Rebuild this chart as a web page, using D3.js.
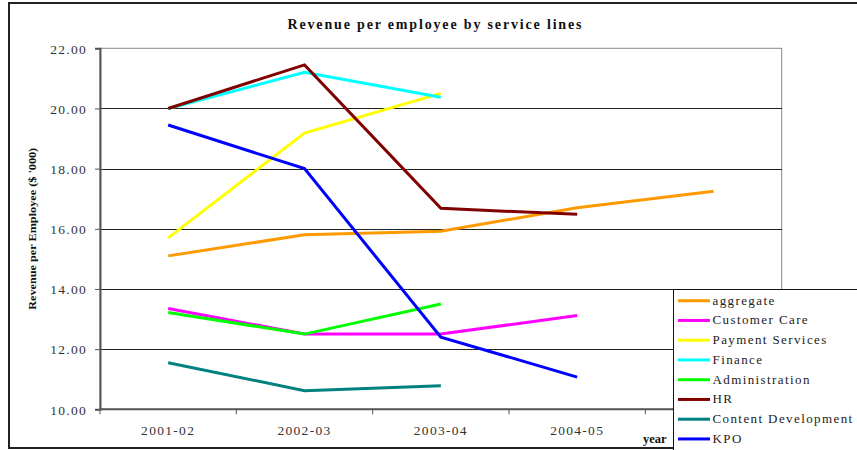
<!doctype html>
<html>
<head>
    <style>
        body {
            margin: 0;
            background: white;
        }

        svg text {
            font-family: 'Liberation Serif', 'Times New Roman', Times, serif !important;
        }

        .title {
            font-size: 14px;
            font-weight: bold;
            fill: #111;
        }

        .axis text {
            font-size: 13.5px;
            fill: #333;
            letter-spacing: 1.3px;
        }

        .axis path, .axis line {
            stroke: #555;
        }

        .grid line {
            stroke: #222;
            shape-rendering: crispEdges;
        }

        .series {
            fill: none;
            stroke-width: 3;
            stroke-linejoin: miter;
        }

        .legend text {
            font-size: 13px;
            fill: #222;
            letter-spacing: 1.4px;
        }
    </style>
    <script src="https://d3js.org/d3.v7.min.js"></script>
</head>
<body>
<script>
    // data
    const years = ['2001-02', '2002-03', '2003-04', '2004-05', '2005-06']
    const yearLabels = ['2001-02', '2002-03', '2003-04', '2004-05', ''] // last one sits under the legend
    const yTicks = [10, 12, 14, 16, 18, 20, 22]

    const seriesNames = ['aggregate', 'Customer Care', 'Payment Services', 'Finance',
        'Administration', 'HR', 'Content Development', 'KPO']
    const seriesColors = ['#FF9900', '#FF00FF', '#FFFF00', '#00FFFF',
        '#00FF00', '#800000', '#008080', '#0000FF']

    const aggregate = [15.1, 15.8, 15.92, 16.7, 17.25]
    const customerCare = [13.35, 12.5, 12.5, 13.12, null]
    const paymentServices = [15.7, 19.18, 20.5, null, null]
    const finance = [20.0, 21.2, 20.37, null, null]
    const administration = [13.22, 12.5, 13.5, null, null]
    const hr = [20.0, 21.45, 16.68, 16.48, null]
    const contentDevelopment = [11.55, 10.62, 10.78, null, null]
    const kpo = [19.45, 18.0, 12.4, 11.07, null]

    const seriesValues = [aggregate, customerCare, paymentServices, finance,
        administration, hr, contentDevelopment, kpo]

    const W = 857, H = 450
    const plot = {left: 100, top: 48.3, right: 781.7, bottom: 409.3}

    const svg = d3.select('body')
        .append('svg')
        .attr('width', W)
        .attr('height', H)

    // outer chart frame (runs off the right edge like the original)
    svg.append('rect')
        .attr('x', 9).attr('y', 3)
        .attr('width', 900).attr('height', 445)
        .attr('fill', 'white')
        .attr('stroke', '#222')
        .attr('stroke-width', 2)

    const x = d3.scaleBand()
        .domain(years)
        .range([plot.left, plot.right])

    const y = d3.scaleLinear()
        .domain([10, 22])
        .range([plot.bottom, plot.top])

    // plot area border
    svg.append('rect')
        .attr('x', plot.left).attr('y', plot.top)
        .attr('width', plot.right - plot.left)
        .attr('height', plot.bottom - plot.top)
        .attr('fill', 'none')
        .attr('stroke', '#888')
        .attr('stroke-width', 1)

    // horizontal grid
    svg.append('g')
        .attr('class', 'grid')
        .selectAll('line')
        .data(yTicks.filter(t => t > 10 && t < 22))
        .enter().append('line')
        .attr('x1', plot.left).attr('x2', plot.right)
        .attr('y1', d => Math.round(y(d)) + 0.5)
        .attr('y2', d => Math.round(y(d)) + 0.5)

    // y axis
    const yAxis = svg.append('g')
        .attr('class', 'axis')
        .attr('transform', `translate(${plot.left},0)`)
        .call(d3.axisLeft(y).tickValues(yTicks).tickFormat(d3.format('.2f')).tickSize(5).tickPadding(8))
    yAxis.attr('font-family', null)
    yAxis.select('.domain').attr('stroke-width', 2)
    yAxis.selectAll('.tick line').attr('stroke', '#222')
    yAxis.selectAll('.tick text').attr('dy', '0.35em')

    // x axis: ticks on band edges, labels at band centres
    const xAxis = svg.append('g')
        .attr('class', 'axis')
        .attr('transform', `translate(0,${plot.bottom})`)
    xAxis.append('line')
        .attr('x1', plot.left).attr('x2', plot.right)
        .attr('stroke-width', 2)
    xAxis.selectAll('.edge')
        .data(years.map(d => x(d)).concat([plot.right]))
        .enter().append('line')
        .attr('class', 'edge')
        .attr('x1', d => d).attr('x2', d => d)
        .attr('y1', 0).attr('y2', 5)
        .attr('stroke', '#222')
    xAxis.selectAll('.lbl')
        .data(years)
        .enter().append('text')
        .attr('class', 'lbl')
        .attr('x', d => x(d) + x.bandwidth() / 2)
        .attr('y', 26)
        .attr('text-anchor', 'middle')
        .text((d, i) => yearLabels[i])

    // series lines
    const line = d3.line()
        .defined(d => d.v != null)
        .x(d => x(d.year) + x.bandwidth() / 2)
        .y(d => y(d.v))

    seriesValues.forEach(function (vals, i) {
        svg.append('path')
            .datum(vals.map((v, j) => ({year: years[j], v: v})))
            .attr('class', 'series')
            .attr('stroke', seriesColors[i])
            .attr('d', line)
    })

    // title
    svg.append('text')
        .attr('class', 'title')
        .attr('x', 434.5)
        .attr('y', 29)
        .attr('text-anchor', 'middle')
        .attr('textLength', 294)
        .attr('lengthAdjust', 'spacing')
        .text('Revenue per employee by service lines')

    // y axis title
    svg.append('text')
        .attr('transform', `translate(36,${(plot.top + plot.bottom) / 2}) rotate(-90)`)
        .attr('text-anchor', 'middle')
        .attr('textLength', 162)
        .attr('lengthAdjust', 'spacingAndGlyphs')
        .style('font-size', '11px')
        .style('font-weight', 'bold')
        .style('fill', '#111')
        .text("Revenue per Employee ($ '000)")

    // x axis title
    svg.append('text')
        .attr('x', 666.5)
        .attr('y', 443)
        .attr('text-anchor', 'end')
        .style('font-size', '12.5px')
        .style('font-weight', 'bold')
        .style('fill', '#111')
        .text('year')

    // legend, drawn over the plot like the original
    const legend = svg.append('g')
        .attr('class', 'legend')
        .attr('transform', 'translate(673.5,289.5)')
    legend.append('rect')
        .attr('width', 200).attr('height', 200)
        .attr('fill', 'white')
        .attr('stroke', '#111')
        .attr('stroke-width', 1)

    const rowStep = 19.75
    const items = legend.selectAll('.item')
        .data(seriesNames)
        .enter().append('g')
        .attr('class', 'item')
        .attr('transform', (d, i) => `translate(0,${11.2 + i * rowStep})`)
    items.append('line')
        .attr('x1', 4.5).attr('x2', 36.5)
        .attr('stroke', (d, i) => seriesColors[i])
        .attr('stroke-width', 3)
    items.append('text')
        .attr('x', 39)
        .attr('y', 4)
        .text(d => d)
</script>
</body>
</html>
